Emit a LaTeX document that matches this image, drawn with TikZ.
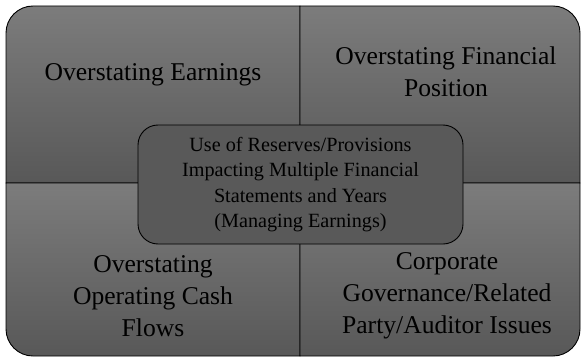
\documentclass[tikz,border=0pt]{standalone}
\usepackage{fontspec}
\setmainfont{Liberation Serif}
\usepackage{xcolor}
\usetikzlibrary{positioning}
\definecolor{quadtop}{RGB}{124,124,124}
\definecolor{quadbottom}{RGB}{88,88,88}
\definecolor{corefill}{RGB}{89,89,89}

\begin{document}
\begin{tikzpicture}[
    x=1pt, y=1pt,
    quad/.style={draw=black, line width=0.9pt, top color=quadtop, bottom color=quadbottom},
    quadtext/.style={align=center, font=\fontsize{25.6}{32}\selectfont, text=black, inner sep=0pt},
    core/.style={draw=black, line width=0.9pt, fill=corefill, rounded corners=20pt, minimum width=325pt, minimum height=119pt, align=center, font=\fontsize{20.2}{25.5}\selectfont, inner sep=0pt}
]
\useasboundingbox (0,0) rectangle (585,362);
% four quadrants, each with one rounded outer corner
\draw[quad] (300,179) -- (6,179) -- (6,329) arc[start angle=180, end angle=90, radius=27] -- (300,356) -- cycle;
\draw[quad] (300,179) -- (580,179) -- (580,329) arc[start angle=0, end angle=90, radius=27] -- (300,356) -- cycle;
\draw[quad] (300,179) -- (6,179) -- (6,33) arc[start angle=180, end angle=270, radius=27] -- (300,6) -- cycle;
\draw[quad] (300,179) -- (580,179) -- (580,33) arc[start angle=0, end angle=-90, radius=27] -- (300,6) -- cycle;

\node[quadtext] (earnings) at (153,287) {Overstating Earnings};
\node[quadtext] (position) at (446,290) {Overstating Financial\\Position};
\node[quadtext] (cashflows) at (153,66) {Overstating\\Operating Cash\\Flows};
\node[quadtext] (governance) at (447,66) {Corporate\\Governance/Related\\Party/Auditor Issues};

\node[core] (reserves) at (300.5,177.5) {Use of Reserves/Provisions\\Impacting Multiple Financial\\Statements and Years\\(Managing Earnings)};
\end{tikzpicture}
\end{document}
